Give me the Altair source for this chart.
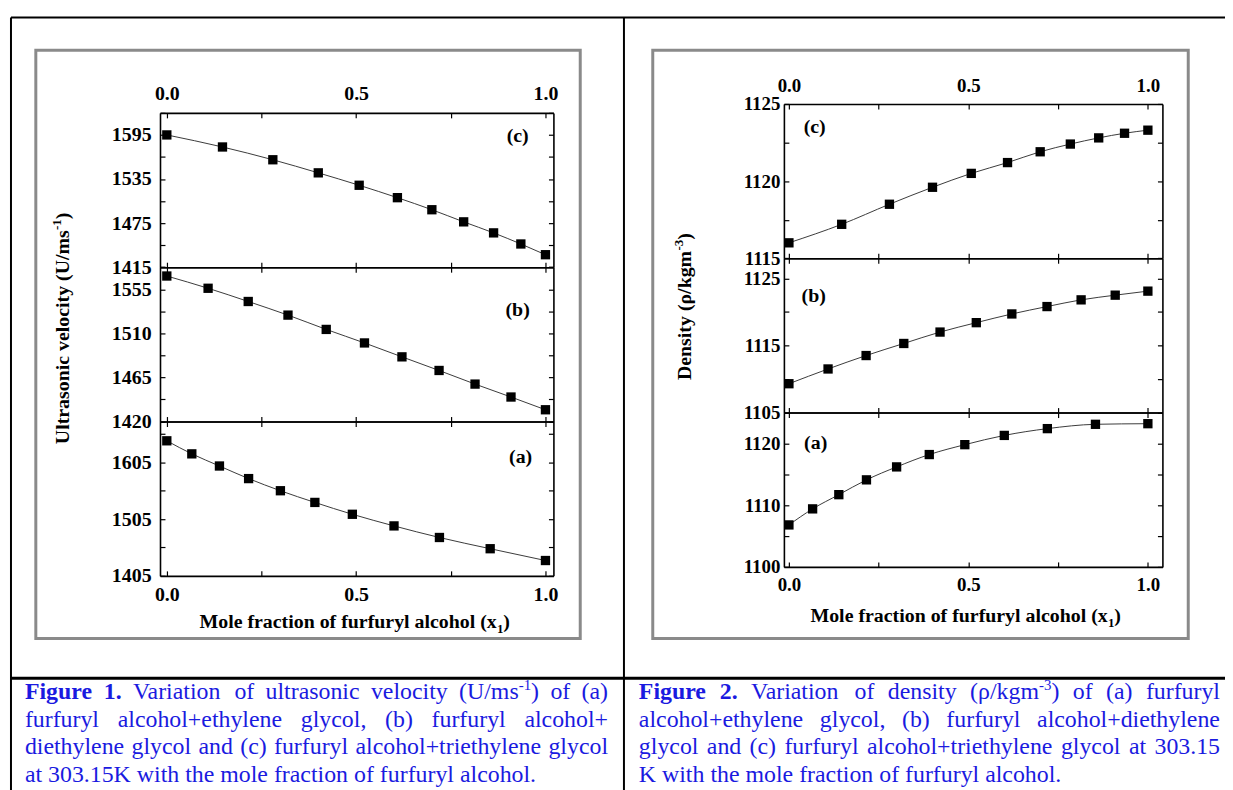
import re
import altair as alt
import pandas as pd

# ---------------- values ----------------
# mole fractions of furfuryl alcohol (x1) for the three binaries
x_eg = [0.0, 0.066, 0.139, 0.216, 0.300, 0.391, 0.490, 0.600, 0.720, 0.854, 1.0]
x_deg = [0.0, 0.109, 0.215, 0.320, 0.421, 0.522, 0.621, 0.719, 0.814, 0.909, 1.0]
x_teg = [0.0, 0.147, 0.280, 0.400, 0.508, 0.609, 0.700, 0.784, 0.863, 0.935, 1.0]

# ultrasonic velocity (m/s)
u_eg = [1643.0, 1620.0, 1598.6, 1576.4, 1555.0, 1534.4, 1513.5, 1493.0, 1472.6, 1452.8, 1432.0]
u_deg = [1568.5, 1556.0, 1542.5, 1528.6, 1514.0, 1500.2, 1486.0, 1472.1, 1458.2, 1445.0, 1432.0]
u_teg = [1595.0, 1578.6, 1561.2, 1543.4, 1526.5, 1509.6, 1493.2, 1476.7, 1461.7, 1446.6, 1432.0]

# density (kg/m3)
rho_eg = [1106.8, 1109.4, 1111.7, 1114.1, 1116.2, 1118.2, 1119.8, 1121.3, 1122.4, 1123.1, 1123.2]
rho_deg = [1109.3, 1111.5, 1113.5, 1115.3, 1117.0, 1118.4, 1119.7, 1120.8, 1121.8, 1122.5, 1123.1]
rho_teg = [1116.0, 1117.2, 1118.5, 1119.6, 1120.5, 1121.2, 1121.9, 1122.4, 1122.8, 1123.1, 1123.3]

# axis ticks / labels
x_tick_values = [0.0, 0.25, 0.5, 0.75, 1.0]
x_label_values = [0.0, 0.5, 1.0]

u_c_domain = [1415, 1625]
u_c_labels = [1415, 1475, 1535, 1595]
u_c_ticks = [1415, 1445, 1475, 1505, 1535, 1565, 1595, 1625]
u_b_domain = [1420, 1577.5]
u_b_labels = [1420, 1465, 1510, 1555]
u_b_ticks = [1420, 1442.5, 1465, 1487.5, 1510, 1532.5, 1555, 1577.5]
u_a_domain = [1405, 1677]
u_a_labels = [1405, 1505, 1605]
u_a_ticks = [1405, 1455, 1505, 1555, 1605, 1655]

r_c_domain = [1115, 1125]
r_c_labels = [1115, 1120, 1125]
r_c_ticks = [1115, 1117.5, 1120, 1122.5, 1125]
r_b_domain = [1105, 1128]
r_b_labels = [1105, 1115, 1125]
r_b_ticks = [1105, 1110, 1115, 1120, 1125]
r_a_domain = [1100, 1125]
r_a_labels = [1100, 1110, 1120]
r_a_ticks = [1100, 1105, 1110, 1115, 1120]

panel_tags = ["(c)", "(b)", "(a)"]

x_title = ["Mole fraction of furfuryl alcohol (x", "1", ")"]
y_title_1 = ["Ultrasonic velocity (U/ms", "-1", ")"]
y_title_2 = ["Density (\u03c1/kgm", "-3", ")"]

caption_1 = [
    "*Figure *1. Variation of ultrasonic velocity (U/ms{-1}) of (a)",
    "furfuryl alcohol+ethylene glycol, (b) furfuryl alcohol+",
    "diethylene glycol and (c) furfuryl alcohol+triethylene glycol",
    "at 303.15K with the mole fraction of furfuryl alcohol.",
]
caption_2 = [
    "*Figure *2. Variation of density (\u03c1/kgm{-3}) of (a) furfuryl",
    "alcohol+ethylene glycol, (b) furfuryl alcohol+diethylene",
    "glycol and (c) furfuryl alcohol+triethylene glycol at 303.15",
    "K with the mole fraction of furfuryl alcohol.",
]

# ---------------- layout / style ----------------
SERIF = "Liberation Serif"
BLUE = "#1a1ae0"
GRAY = "#8a8a8a"
W, H = 1225, 782


def P(v):
    return v - 8


# Times (Liberation Serif) advance widths, per 1000 em
REG = dict(zip("abcdefghijklmnopqrstuvwxyz",
               [444, 500, 444, 500, 444, 333, 500, 500, 278, 278, 500, 278, 778,
                500, 500, 500, 500, 333, 389, 278, 500, 500, 722, 500, 500, 444]))
REG.update({" ": 250, "(": 333, ")": 333, "+": 564, ",": 250, "-": 333, ".": 250,
            "/": 278, "F": 556, "K": 722, "U": 722, "V": 722, "\u03c1": 500})
REG.update({d: 500 for d in "0123456789"})
BOLD = dict(zip("abcdefghijklmnopqrstuvwxyz",
                [500, 556, 444, 556, 444, 333, 500, 556, 278, 333, 556, 278, 833,
                 556, 500, 556, 556, 444, 389, 333, 556, 500, 722, 500, 500, 444]))
BOLD.update({" ": 250, "(": 333, ")": 333, "-": 333, ".": 250, "/": 278,
             "D": 722, "F": 611, "M": 944, "U": 722, "\u03c1": 549})
BOLD.update({d: 500 for d in "0123456789"})


def tw(text, table, size):
    return sum(table.get(c, 500) for c in text) * size / 1000.0


layers = []


# ---- decorations ----
def rule_h(x1, x2, y, color, w):
    return alt.Chart().mark_rule(color=color, strokeWidth=w).encode(
        x=alt.value(P(x1)), x2=alt.value(P(x2)), y=alt.value(P(y)))


def rule_v(x, y1, y2, color, w):
    return alt.Chart().mark_rule(color=color, strokeWidth=w).encode(
        x=alt.value(P(x)), y=alt.value(P(y1)), y2=alt.value(P(y2)))


def frame(x1, y1, x2, y2):
    return alt.Chart().mark_rect(fillOpacity=0, stroke=GRAY, strokeWidth=3).encode(
        x=alt.value(P(x1)), x2=alt.value(P(x2)), y=alt.value(P(y1)), y2=alt.value(P(y2)))


layers += [
    rule_h(11, 1240, 15, "black", 2),
    rule_v(11, 15, 800, "black", 2),
    rule_v(628, 15, 800, "black", 2),
    rule_h(11, 1240, 680, "black", 3),
    frame(36, 48, 584, 640),
    frame(657, 48, 1196, 640),
]


# ---- panels ----
def panel_layers(xv, yv, xdom, ydom, ylabels, yticks, box, lab_pad, xlab, fs):
    L, R, T, B = [P(v) for v in box]
    df = pd.DataFrame({"x": xv, "y": yv})
    xs = alt.Scale(domain=xdom, range=[L, R], nice=False, zero=False)
    ys = alt.Scale(domain=ydom, range=[B, T], nice=False, zero=False)
    tk = dict(labels=False, ticks=True, domain=True, title=None, tickSize=5, grid=False)
    ax_top = alt.Axis(orient="bottom", offset=T - H, values=x_tick_values, **tk)
    ax_bot = alt.Axis(orient="top", offset=-B, values=x_tick_values, **tk)
    ax_left = alt.Axis(orient="right", offset=L - W, values=yticks, **tk)
    ax_right = alt.Axis(orient="left", offset=-R, values=yticks, **tk)
    lab = dict(ticks=False, tickSize=0, domain=False, title=None, grid=False,
               labelFontSize=fs, labelOverlap=False, labelFlush=False)
    ax_ylab = alt.Axis(orient="left", offset=-L, values=ylabels, format="d",
                       labelPadding=lab_pad, **lab)
    if xlab == "top":
        ax_xlab = alt.Axis(orient="top", offset=-T, values=x_label_values, format=".1f",
                           labelPadding=9, **lab)
    elif xlab == "bottom":
        ax_xlab = alt.Axis(orient="bottom", offset=B - H, values=x_label_values, format=".1f",
                           labelPadding=9, **lab)
    else:
        ax_xlab = None
    base = alt.Chart(df)
    line = base.mark_line(interpolate="monotone", color="#3a3a3a", strokeWidth=1.0).encode(
        x=alt.X("x:Q", scale=xs, axis=ax_top), y=alt.Y("y:Q", scale=ys, axis=ax_ylab))
    pts = base.mark_square(size=88, color="black", opacity=1).encode(
        x=alt.X("x:Q", scale=xs, axis=ax_bot), y=alt.Y("y:Q", scale=ys, axis=ax_left))
    ghost = base.mark_point(opacity=0).encode(
        x=alt.X("x:Q", scale=xs, axis=ax_xlab), y=alt.Y("y:Q", scale=ys, axis=ax_right))
    return [line, pts, ghost]


fig1 = dict(left=161, right=557, top=111, bottom=577, xdom=[-0.018, 1.021], pad=9, fs=20)
fig2 = dict(left=789, right=1170, top=102, bottom=568, xdom=[-0.014, 1.0405], pad=4, fs=19)

fig1_series = [
    (x_teg, u_teg, u_c_domain, u_c_labels, u_c_ticks),
    (x_deg, u_deg, u_b_domain, u_b_labels, u_b_ticks),
    (x_eg, u_eg, u_a_domain, u_a_labels, u_a_ticks),
]
fig2_series = [
    (x_teg, rho_teg, r_c_domain, r_c_labels, r_c_ticks),
    (x_deg, rho_deg, r_b_domain, r_b_labels, r_b_ticks),
    (x_eg, rho_eg, r_a_domain, r_a_labels, r_a_ticks),
]

for fig, series in ((fig1, fig1_series), (fig2, fig2_series)):
    ph = (fig["bottom"] - fig["top"]) / 3.0
    for i, (xv, yv, dom, labs, ticks) in enumerate(series):
        top = fig["top"] + i * ph
        bot = top + ph
        xlab = "top" if i == 0 else ("bottom" if i == 2 else None)
        layers += panel_layers(xv, yv, fig["xdom"], dom, labs, ticks,
                               (fig["left"], fig["right"], top, bot), fig["pad"], xlab, fig["fs"])


# ---- panel tags ----
def tag(text, x, y):
    return alt.Chart().mark_text(font=SERIF, fontWeight="bold", fontSize=20, color="black",
                                 align="center", baseline="middle").encode(
        x=alt.value(P(x)), y=alt.value(P(y)), text=alt.value(text))


tag_pos_1 = [(521, 134), (521, 309), (524, 457)]
tag_pos_2 = [(820, 125), (819, 295), (821, 443)]
for t, (x, y) in zip(panel_tags, tag_pos_1):
    layers.append(tag(t, x, y))
for t, (x, y) in zip(panel_tags, tag_pos_2):
    layers.append(tag(t, x, y))


# ---- axis titles built from pieces (sub/superscripts) ----
def hor_title(pieces, cx, by):
    sizes = [20, 13, 20]
    shifts = [0, 5, 0]
    total = sum(tw(t, BOLD, s) for t, s in zip(pieces, sizes))
    x = cx - total / 2
    out = []
    for t, s, d in zip(pieces, sizes, shifts):
        out.append(alt.Chart().mark_text(font=SERIF, fontWeight="bold", fontSize=s, color="black",
                                         align="left", baseline="alphabetic").encode(
            x=alt.value(P(x)), y=alt.value(P(by + d)), text=alt.value(t)))
        x += tw(t, BOLD, s)
    return out


def rot_title(pieces, bx, cy):
    sizes = [20, 13, 20]
    raises = [0, 8, 0]
    total = sum(tw(t, BOLD, s) for t, s in zip(pieces, sizes))
    y = cy + total / 2
    out = []
    for t, s, r in zip(pieces, sizes, raises):
        out.append(alt.Chart().mark_text(font=SERIF, fontWeight="bold", fontSize=s, color="black",
                                         align="left", baseline="alphabetic", angle=270).encode(
            x=alt.value(P(bx - r)), y=alt.value(P(y)), text=alt.value(t)))
        y -= tw(t, BOLD, s)
    return out


layers += hor_title(x_title, 357, 630)
layers += hor_title(x_title, 972, 623)
layers += rot_title(y_title_1, 69, 328)
layers += rot_title(y_title_2, 695, 306)


# ---- captions (justified) ----
def caption_rows(lines, x0, x1, y0, lh, size=24, sup=15):
    rows = []
    for li, line in enumerate(lines):
        words = []
        for wd in line.split(" "):
            bold = wd.startswith("*")
            wd = wd.lstrip("*")
            segs = []
            for part in re.split(r"(\{[^}]*\})", wd):
                if not part:
                    continue
                if part.startswith("{"):
                    segs.append((part[1:-1], "sup"))
                else:
                    segs.append((part, "bold" if bold else "reg"))
            words.append(segs)

        def seg_w(t, st):
            if st == "sup":
                return tw(t, REG, sup)
            return tw(t, BOLD if st == "bold" else REG, size)

        wws = [sum(seg_w(t, st) for t, st in w) for w in words]
        if li < len(lines) - 1 and len(words) > 1:
            gap = (x1 - x0 - sum(wws)) / (len(words) - 1)
        else:
            gap = 250 * size / 1000.0
        x = x0
        y = y0 + li * lh
        for w, ww in zip(words, wws):
            cx = x
            for t, st in w:
                rows.append({"text": t, "x": P(cx), "y": P(y - (9 if st == "sup" else 0)), "style": st})
                cx += seg_w(t, st)
            x += ww + gap
    return rows


rows = caption_rows(caption_1, 25, 612, 701, 27.7) + caption_rows(caption_2, 643, 1228, 701, 27.7)
cap_df = pd.DataFrame(rows)
for st, fw, fsz in (("reg", "normal", 24), ("bold", "bold", 24), ("sup", "normal", 15)):
    sub = cap_df[cap_df["style"] == st]
    layers.append(alt.Chart(sub).mark_text(font=SERIF, fontWeight=fw, fontSize=fsz, color=BLUE,
                                           align="left", baseline="alphabetic").encode(
        x=alt.X("x:Q", scale=None, axis=None),
        y=alt.Y("y:Q", scale=None, axis=None),
        text="text:N"))

chart = alt.layer(*layers).resolve_scale(
    x="independent", y="independent"
).resolve_axis(
    x="independent", y="independent"
).properties(
    width=W, height=H, autosize=alt.AutoSizeParams(type="none"), padding=0
).configure_axis(
    labelFont=SERIF, labelFontWeight="bold", labelColor="black",
    tickColor="black", domainColor="black", tickWidth=1.2, domainWidth=1.6, grid=False
).configure_view(strokeOpacity=0)

chart.save("out.html", embed_options={"renderer": "svg", "actions": False})
